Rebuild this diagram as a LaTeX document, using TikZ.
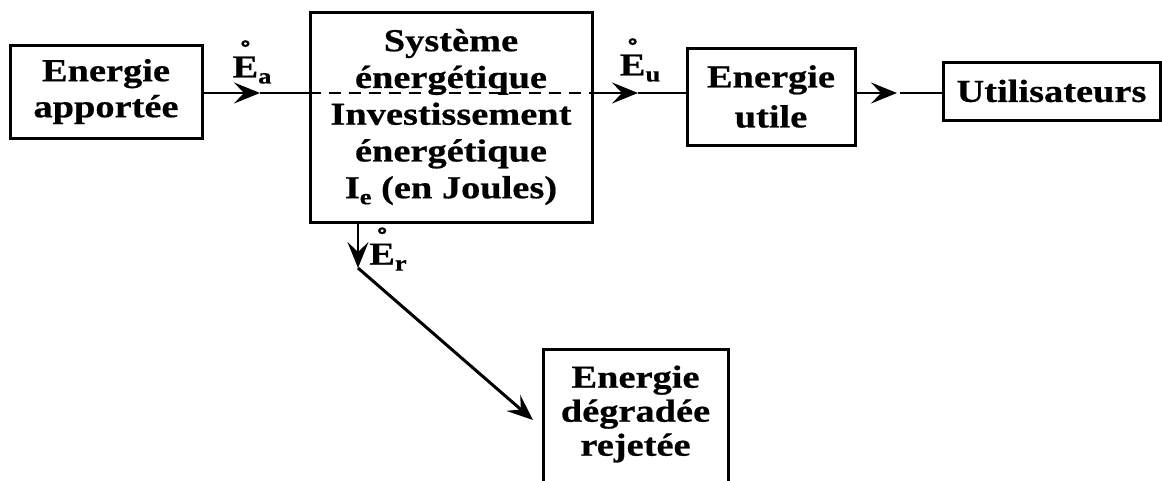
\documentclass[tikz,border=0pt]{standalone}
\usepackage{fontspec}
\newfontfamily\dfont{Liberation Serif Bold}[FakeStretch=1.2, FakeBold=0.6]
\usetikzlibrary{arrows.meta,calc}
\newcommand\subtxt[1]{\raisebox{-6pt}{\fontsize{22}{22}\selectfont #1}}
\newcommand\Ering{\setbox0\hbox{E}\rlap{\hbox to \wd0{\hss\raisebox{14pt}{\char"02DA}\hss}}E}
\tikzset{
  box/.style={draw, line width=3pt, inner sep=0pt, align=center,
    font=\dfont\fontsize{32}{36}\selectfont},
  frame/.style={line width=3pt},
  lab/.style={inner sep=0pt, font=\dfont\fontsize{32}{36}\selectfont},
  conn/.style={line width=2.3pt},
  tip/.style={-{Stealth[length=26pt,width=21pt,inset=10pt]}},
  dashline/.style={line width=2.3pt, dash pattern=on 12pt off 8pt}
}
\begin{document}
\begin{tikzpicture}[x=1pt,y=-1pt]
\useasboundingbox (0,0) rectangle (1162,480);
\clip (0,0) rectangle (1162,480);

\node[box, minimum width=192pt, minimum height=93pt] (apport) at (106,91.5) {Energie\\apportée};
\node[box, minimum width=282pt, minimum height=210pt,
  font=\dfont\fontsize{32}{36.75}\selectfont] (sys) at (451,117)
  {Système\\énergétique\\Investissement\\énergétique\\I\subtxt{e} (en Joules)};
\node[box, minimum width=168pt, minimum height=97pt,
  font=\dfont\fontsize{32}{40}\selectfont] (utile) at (771,96.5) {Energie\\utile};
\node[box, minimum width=217pt, minimum height=58pt] (users) at (1051.5,91) {Utilisateurs};
\node[box, draw=none, font=\dfont\fontsize{32}{34}\selectfont] (degr) at (635.5,414) {Energie\\dégradée\\rejetée};
\draw[frame] ($(degr.center)+(-92.5,90)$) |- ($(degr.center)+(0,-65)$) -| ($(degr.center)+(92.5,90)$);

% labels
\node[lab] (la) at (252,62) {\Ering\subtxt{a}};
\node[lab] (lu) at (640,60) {\Ering\subtxt{u}};
\node[lab] (lr) at (388,249) {\Ering\subtxt{r}};

% connectors
\coordinate (ta) at (260,93);
\coordinate (tu) at (638,93);
\coordinate (tus) at (897,93);
\coordinate (tr) at (358,268);
\coordinate (td) at (533,420);
\draw[conn,tip] (apport.east |- ta) -- (ta);
\draw[conn] (ta) -- (sys.west |- ta);
\draw[dashline] (sys.west |- ta) -- (sys.east |- ta);
\draw[conn,tip] (sys.east |- ta) -- (tu);
\draw[conn] (tu) -- (utile.west |- tu);
\draw[conn,tip] (utile.east |- tus) -- (tus);
\draw[conn] ([xshift=3pt]tus) -- (users.west |- tus);
\draw[conn,tip] (sys.south -| tr) -- (tr);
\draw[conn,line width=3pt,tip] (tr) -- (td);
\end{tikzpicture}
\end{document}
